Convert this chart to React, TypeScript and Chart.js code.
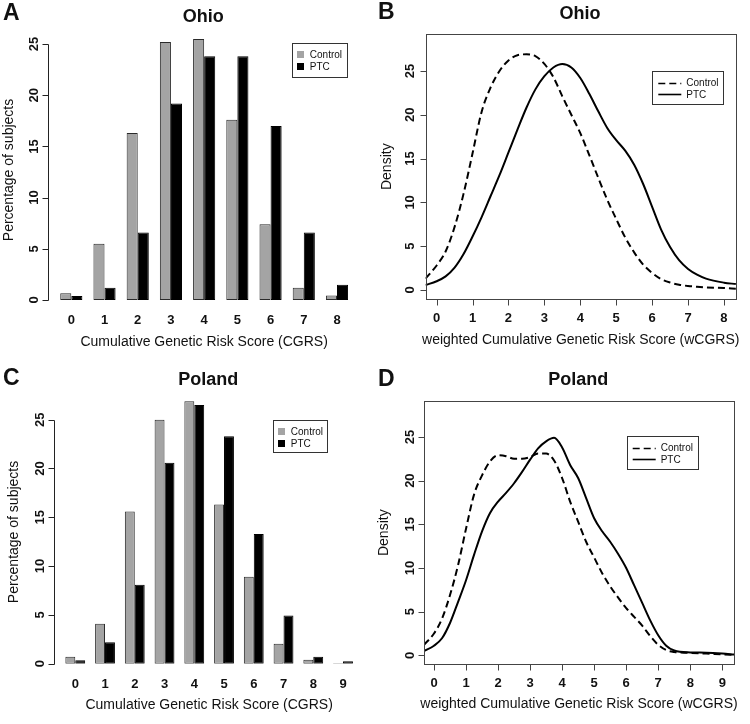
import React, { useEffect, useRef } from "react";
import { Chart, registerables } from "chart.js";

Chart.register(...registerables);

const FONT = "'Liberation Sans', Arial, Helvetica, sans-serif";

// ---------- Panel A: Ohio, CGRS bar chart ----------
const ohioCgrsCategories = ["0", "1", "2", "3", "4", "5", "6", "7", "8"];
const ohioCgrsControl = [0.65, 5.5, 16.3, 25.2, 25.5, 17.6, 7.4, 1.2, 0.45];
const ohioCgrsPTC = [0.4, 1.2, 6.6, 19.2, 23.8, 23.8, 17.0, 6.6, 1.5];

// ---------- Panel C: Poland, CGRS bar chart ----------
const polandCgrsCategories = ["0", "1", "2", "3", "4", "5", "6", "7", "8", "9"];
const polandCgrsControl = [0.7, 4.1, 15.6, 25.0, 26.9, 16.3, 8.9, 2.05, 0.4, 0.05];
const polandCgrsPTC = [0.35, 2.2, 8.1, 20.6, 26.5, 23.3, 13.3, 4.95, 0.7, 0.25];

// ---------- Panel B: Ohio, wCGRS density ----------
const ohioWx = [-0.31, 0, 0.25, 0.5, 0.75, 1.0, 1.25, 1.5, 1.75, 2.0, 2.25, 2.5, 2.75, 3.0, 3.25, 3.5, 3.75, 4.0, 4.25, 4.5, 4.75, 5.0, 5.25, 5.5, 5.75, 6.0, 6.25, 6.5, 6.75, 7.0, 7.25, 7.5, 8.0, 8.33];
const ohioWControl = [1.3, 2.8, 4.4, 7.2, 11.0, 15.6, 20.3, 23.1, 25.0, 26.2, 26.8, 26.9, 26.7, 25.8, 24.3, 22.1, 20.0, 17.9, 15.4, 12.8, 10.3, 8.1, 6.0, 4.3, 2.9, 1.95, 1.25, 0.85, 0.6, 0.46, 0.37, 0.3, 0.22, 0.15];
const ohioWPTC = [0.57, 1.0, 1.55, 2.55, 4.1, 6.1, 8.3, 10.7, 13.1, 15.7, 18.3, 20.8, 22.9, 24.4, 25.4, 25.8, 25.4, 24.2, 22.4, 20.4, 18.5, 17.1, 15.9, 14.3, 12.1, 9.5, 6.9, 4.9, 3.4, 2.4, 1.75, 1.3, 0.84, 0.68];

// ---------- Panel D: Poland, wCGRS density ----------
const polandWx = [-0.31, 0, 0.25, 0.5, 0.75, 1.0, 1.25, 1.5, 1.75, 2.0, 2.25, 2.5, 2.75, 3.0, 3.25, 3.5, 3.75, 4.0, 4.25, 4.5, 4.75, 5.0, 5.25, 5.5, 5.75, 6.0, 6.25, 6.5, 6.75, 7.0, 7.25, 7.5, 8.0, 8.5, 9.0, 9.37];
const polandWControl = [1.2, 2.5, 4.2, 6.9, 10.3, 14.5, 18.4, 20.6, 22.2, 22.9, 22.8, 22.5, 22.5, 22.7, 23.1, 23.1, 22.3, 20.3, 17.6, 15.3, 13.0, 11.2, 9.4, 7.9, 6.6, 5.4, 4.4, 3.4, 2.2, 1.2, 0.6, 0.38, 0.28, 0.2, 0.1, 0.04];
const polandWPTC = [0.5, 1.1, 1.95, 3.7, 6.1, 8.6, 11.5, 14.2, 16.3, 17.6, 18.6, 19.7, 21.0, 22.4, 23.7, 24.5, 24.9, 23.8, 21.8, 20.3, 18.0, 15.7, 14.2, 13.0, 11.6, 10.0, 8.0, 6.0, 4.0, 2.3, 1.1, 0.55, 0.33, 0.3, 0.2, 0.08];

// ---------- Tick labels ----------
const percentTicks = [0, 5, 10, 15, 20, 25];
const densityTicks = [0, 5, 10, 15, 20, 25];
const ohioWTicks = [0, 1, 2, 3, 4, 5, 6, 7, 8];
const polandWTicks = [0, 1, 2, 3, 4, 5, 6, 7, 8, 9];

const seriesNames = ["Control", "PTC"];
const GRAY = "#a4a4a4";
const BLACK = "#000000";

type Panel = {
  key: string;
  kind: "bar" | "density";
  letter: string;
  title: string;
  xTitle: string;
  yTitle: string;
  left: number;
  top: number;
  padding: { left: number; right: number; top: number; bottom: number };
  xMin?: number;
  xMax?: number;
  yMin: number;
  yMax: number;
  yTicks: number[];
  xTicks?: number[];
  yAxisX?: number;
  yLabelX: number;
  xLabelY: number;
  xTitleY: number;
  yTitleX: number;
  yTitleY: number;
  titleX: number;
  titleY: number;
  letterX: number;
  letterY: number;
  legend: { x: number; y: number; w: number; h: number };
  labels?: string[];
  control: number[];
  ptc: number[];
  xs?: number[];
};

function rStylePlugin(p: Panel) {
  return {
    id: "rstyle",
    afterDraw(chart: any) {
      const ctx: CanvasRenderingContext2D = chart.ctx;
      const ca = chart.chartArea;
      const xs = chart.scales.x;
      const ys = chart.scales.y;
      const snap = (v: number) => Math.round(v) + 0.5;
      ctx.save();
      ctx.lineWidth = 1;
      ctx.strokeStyle = "#222";
      ctx.fillStyle = "#111";

      const yp = p.yTicks.map((v) => ys.getPixelForValue(v));
      if (p.kind === "bar") {
        const ax = snap(p.yAxisX as number);
        ctx.beginPath();
        ctx.moveTo(ax, snap(yp[0]));
        ctx.lineTo(ax, snap(yp[yp.length - 1]));
        yp.forEach((py) => {
          ctx.moveTo(ax - 6, snap(py));
          ctx.lineTo(ax, snap(py));
        });
        ctx.stroke();
      } else {
        ctx.strokeStyle = "#444";
        const l = Math.round(ca.left);
        const t = Math.round(ca.top);
        const r = Math.round(ca.right);
        const b = Math.round(ca.bottom);
        ctx.strokeRect(l + 0.5, t + 0.5, r - l, b - t);
        ctx.beginPath();
        yp.forEach((py) => {
          ctx.moveTo(l + 0.5 - 6, snap(py));
          ctx.lineTo(l + 0.5, snap(py));
        });
        (p.xTicks || []).forEach((v) => {
          const px = snap(xs.getPixelForValue(v));
          ctx.moveTo(px, b + 0.5);
          ctx.lineTo(px, b + 0.5 + 6);
        });
        ctx.stroke();
      }

      // y tick labels (rotated, R style)
      ctx.font = `bold 13px ${FONT}`;
      ctx.textAlign = "center";
      ctx.textBaseline = "middle";
      p.yTicks.forEach((v, i) => {
        ctx.save();
        ctx.translate(p.yLabelX, yp[i]);
        ctx.rotate(-Math.PI / 2);
        ctx.fillText(String(v), 0, 0);
        ctx.restore();
      });

      // x tick labels
      if (p.kind === "bar") {
        (chart.data.labels as string[]).forEach((lab, i) => {
          ctx.fillText(lab, xs.getPixelForValue(i), p.xLabelY);
        });
      } else {
        (p.xTicks || []).forEach((v) => {
          ctx.fillText(String(v), xs.getPixelForValue(v), p.xLabelY);
        });
      }

      // axis titles
      ctx.font = `14px ${FONT}`;
      ctx.fillText(p.xTitle, (ca.left + ca.right) / 2, p.xTitleY);
      ctx.save();
      ctx.translate(p.yTitleX, p.yTitleY);
      ctx.rotate(-Math.PI / 2);
      ctx.fillText(p.yTitle, 0, 0);
      ctx.restore();

      // main title
      ctx.font = `bold 18px ${FONT}`;
      ctx.fillText(p.title, p.titleX, p.titleY);

      // panel letter
      ctx.font = `bold 23px ${FONT}`;
      ctx.textAlign = "left";
      ctx.fillText(p.letter, p.letterX, p.letterY);

      // legend
      const lg = p.legend;
      ctx.strokeStyle = "#333";
      ctx.lineWidth = 1;
      ctx.strokeRect(Math.round(lg.x) + 0.5, Math.round(lg.y) + 0.5, Math.round(lg.w), Math.round(lg.h));
      ctx.font = `10px ${FONT}`;
      ctx.textAlign = "left";
      const rows = [lg.y + 11.5, lg.y + 23.3];
      chart.data.datasets.forEach((ds: any, i: number) => {
        const cy = rows[i];
        if (p.kind === "bar") {
          ctx.fillStyle = ds.backgroundColor;
          ctx.fillRect(Math.round(lg.x + 4.5), Math.round(cy - 3.5), 7, 7);
          ctx.fillStyle = "#111";
          ctx.fillText(ds.label, lg.x + 17.5, cy + 0.5);
        } else {
          ctx.save();
          ctx.strokeStyle = ds.borderColor;
          ctx.lineWidth = 1.6;
          ctx.setLineDash(ds.borderDash || []);
          ctx.beginPath();
          ctx.moveTo(lg.x + 6, Math.round(cy) + 0.5);
          ctx.lineTo(lg.x + 29, Math.round(cy) + 0.5);
          ctx.stroke();
          ctx.restore();
          ctx.fillStyle = "#111";
          ctx.fillText(ds.label, lg.x + 34, cy + 0.5);
        }
      });
      ctx.restore();
    },
  };
}

function buildConfig(p: Panel): any {
  const common = {
    responsive: false,
    animation: false,
    events: [],
    layout: { padding: p.padding },
    plugins: { legend: { display: false }, tooltip: { enabled: false }, title: { display: false } },
  };
  if (p.kind === "bar") {
    return {
      type: "bar",
      data: {
        labels: p.labels,
        datasets: [
          { label: seriesNames[0], data: p.control, backgroundColor: GRAY, borderColor: "#2a2a2a", borderWidth: 1, borderSkipped: false },
          { label: seriesNames[1], data: p.ptc, backgroundColor: BLACK, borderColor: "#000", borderWidth: 1, borderSkipped: false },
        ],
      },
      options: {
        ...common,
        datasets: { bar: { categoryPercentage: 2 / 3, barPercentage: 1 } },
        scales: {
          x: { type: "category", display: false, offset: true },
          y: { type: "linear", display: false, min: p.yMin, max: p.yMax },
        },
      },
      plugins: [rStylePlugin(p)],
    };
  }
  const xs = p.xs as number[];
  return {
    type: "line",
    data: {
      datasets: [
        {
          label: seriesNames[0],
          data: xs.map((x, i) => ({ x, y: p.control[i] })),
          borderColor: "#000",
          borderWidth: 2,
          borderDash: [7, 4],
          pointRadius: 0,
          cubicInterpolationMode: "monotone",
          fill: false,
        },
        {
          label: seriesNames[1],
          data: xs.map((x, i) => ({ x, y: p.ptc[i] })),
          borderColor: "#000",
          borderWidth: 2,
          pointRadius: 0,
          cubicInterpolationMode: "monotone",
          fill: false,
        },
      ],
    },
    options: {
      ...common,
      scales: {
        x: { type: "linear", display: false, min: p.xMin, max: p.xMax },
        y: { type: "linear", display: false, min: p.yMin, max: p.yMax },
      },
    },
    plugins: [rStylePlugin(p)],
  };
}

const panels: Panel[] = [
  {
    key: "A", kind: "bar", letter: "A", title: "Ohio",
    xTitle: "Cumulative Genetic Risk Score (CGRS)", yTitle: "Percentage of subjects",
    left: 0, top: 0,
    padding: { left: 54.7, right: 21.4, top: 33.8, bottom: 62 },
    yMin: 0, yMax: 26, yTicks: percentTicks,
    yAxisX: 48.3, yLabelX: 34, xLabelY: 320, xTitleY: 341.7, yTitleX: 9.5, yTitleY: 170,
    titleX: 203.3, titleY: 16.7, letterX: 3, letterY: 13.5,
    legend: { x: 292.3, y: 43.3, w: 54.5, h: 34.4 },
    labels: ohioCgrsCategories, control: ohioCgrsControl, ptc: ohioCgrsPTC,
  },
  {
    key: "B", kind: "density", letter: "B", title: "Ohio",
    xTitle: "weighted Cumulative Genetic Risk Score (wCGRS)", yTitle: "Density",
    left: 375, top: 0,
    padding: { left: 50.5, right: 14, top: 34, bottom: 63.5 },
    xMin: -0.31, xMax: 8.335, yMin: -0.97, yMax: 29.22,
    yTicks: densityTicks, xTicks: ohioWTicks,
    yLabelX: 35.3, xLabelY: 318.3, xTitleY: 340, yTitleX: 11.7, yTitleY: 166.7,
    titleX: 205, titleY: 14.3, letterX: 3, letterY: 13,
    legend: { x: 277.3, y: 71, w: 71, h: 33 },
    xs: ohioWx, control: ohioWControl, ptc: ohioWPTC,
  },
  {
    key: "C", kind: "bar", letter: "C", title: "Poland",
    xTitle: "Cumulative Genetic Risk Score (CGRS)", yTitle: "Percentage of subjects",
    left: 0, top: 362,
    padding: { left: 60.4, right: 17.1, top: 28.4, bottom: 60.3 },
    yMin: 0, yMax: 28, yTicks: percentTicks,
    yAxisX: 54.3, yLabelX: 40.5, xLabelY: 322, xTitleY: 343, yTitleX: 14.2, yTitleY: 170,
    titleX: 208.3, titleY: 17.8, letterX: 3, letterY: 16.5,
    legend: { x: 273.3, y: 58.3, w: 54.4, h: 32.4 },
    labels: polandCgrsCategories, control: polandCgrsControl, ptc: polandCgrsPTC,
  },
  {
    key: "D", kind: "density", letter: "D", title: "Poland",
    xTitle: "weighted Cumulative Genetic Risk Score (wCGRS)", yTitle: "Density",
    left: 375, top: 362,
    padding: { left: 49, right: 16, top: 39, bottom: 59.7 },
    xMin: -0.312, xMax: 9.366, yMin: -1.03, yMax: 29.12,
    yTicks: densityTicks, xTicks: polandWTicks,
    yLabelX: 35.3, xLabelY: 321.7, xTitleY: 341.7, yTitleX: 9.5, yTitleY: 170.7,
    titleX: 203.3, titleY: 17.8, letterX: 3, letterY: 17.5,
    legend: { x: 251.7, y: 74, w: 71, h: 33.3 },
    xs: polandWx, control: polandWControl, ptc: polandWPTC,
  },
];

function PanelChart({ p }: { p: Panel }) {
  const ref = useRef<HTMLCanvasElement>(null);
  useEffect(() => {
    if (!ref.current) return;
    const chart = new Chart(ref.current, buildConfig(p));
    return () => chart.destroy();
  }, [p]);
  return (
    <canvas
      ref={ref}
      width={375}
      height={362}
      style={{ position: "absolute", left: p.left, top: p.top, width: 375, height: 362 }}
    />
  );
}

export default function App() {
  return (
    <div style={{ position: "absolute", left: 0, top: 0, width: 750, height: 724, background: "#fff" }}>
      {panels.map((p) => (
        <PanelChart key={p.key} p={p} />
      ))}
    </div>
  );
}
